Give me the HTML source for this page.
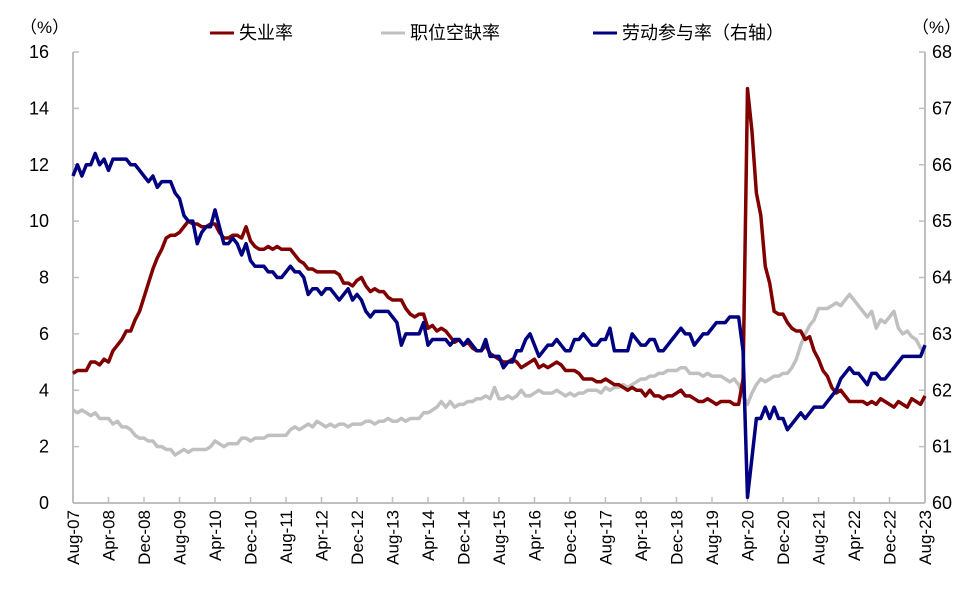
<!DOCTYPE html>
<html><head><meta charset="utf-8"><style>
body{margin:0;background:#fff;}
svg{display:block;font-family:"Liberation Sans","Noto Sans CJK SC",sans-serif;}
</style></head><body>
<svg id="chart" width="977" height="597" viewBox="0 0 977 597" xmlns="http://www.w3.org/2000/svg">
<g id="axes"></g>
<g id="series"></g>
<g id="legend">
  <text x="20" y="33" font-size="17">（%）</text>
  <text x="912" y="33" font-size="17">（%）</text>
  <line x1="210" y1="33" x2="234" y2="33" stroke="#800000" stroke-width="3"/>
  <text x="239" y="39" font-size="18">失业率</text>
  <line x1="381" y1="33" x2="405" y2="33" stroke="#c0c0c0" stroke-width="3"/>
  <text x="410" y="39" font-size="18">职位空缺率</text>
  <line x1="593" y1="33" x2="617" y2="33" stroke="#000080" stroke-width="3"/>
  <text x="622" y="39" font-size="18">劳动参与率（右轴）</text>
</g>
</svg>
<script>
const xLabels=["Aug-07","Apr-08","Dec-08","Aug-09","Apr-10","Dec-10","Aug-11","Apr-12","Dec-12","Aug-13","Apr-14","Dec-14","Aug-15","Apr-16","Dec-16","Aug-17","Apr-18","Dec-18","Aug-19","Apr-20","Dec-20","Aug-21","Apr-22","Dec-22","Aug-23"];
const leftTicks=[0,2,4,6,8,10,12,14,16];
const rightTicks=[60,61,62,63,64,65,66,67,68];
const unemployment=[4.6,4.7,4.7,4.7,5.0,
5.0,4.9,5.1,5.0,5.4,5.6,5.8,6.1,6.1,6.5,6.8,7.3,
7.8,8.3,8.7,9.0,9.4,9.5,9.5,9.6,9.8,10.0,9.9,9.9,
9.8,9.8,9.9,9.9,9.6,9.4,9.4,9.5,9.5,9.4,9.8,9.3,
9.1,9.0,9.0,9.1,9.0,9.1,9.0,9.0,9.0,8.8,8.6,8.5,
8.3,8.3,8.2,8.2,8.2,8.2,8.2,8.1,7.8,7.8,7.7,7.9,
8.0,7.7,7.5,7.6,7.5,7.5,7.3,7.2,7.2,7.2,6.9,6.7,
6.6,6.7,6.7,6.2,6.3,6.1,6.2,6.1,5.9,5.7,5.8,5.6,
5.7,5.5,5.4,5.4,5.6,5.3,5.2,5.1,5.0,5.0,5.1,5.0,
4.8,4.9,5.0,5.1,4.8,4.9,4.8,4.9,5.0,4.9,4.7,4.7,
4.7,4.6,4.4,4.4,4.4,4.3,4.3,4.4,4.3,4.2,4.2,4.1,
4.0,4.1,4.0,4.0,3.8,4.0,3.8,3.8,3.7,3.8,3.8,3.9,
4.0,3.8,3.8,3.7,3.6,3.6,3.7,3.6,3.5,3.6,3.6,3.6,
3.5,3.5,4.4,14.7,13.2,11.0,10.2,8.4,7.8,6.8,6.7,6.7,
6.4,6.2,6.1,6.1,5.8,5.9,5.4,5.1,4.7,4.5,4.1,3.9,
4.0,3.8,3.6,3.6,3.6,3.6,3.5,3.6,3.5,3.7,3.6,3.5,
3.4,3.6,3.5,3.4,3.7,3.6,3.5,3.8];
const vacancy=[3.3,3.2,3.3,3.2,3.1,
3.2,3.0,3.0,3.0,2.8,2.9,2.7,2.7,2.6,2.4,2.3,2.3,
2.2,2.2,2.0,2.0,1.9,1.9,1.7,1.8,1.9,1.8,1.9,1.9,
1.9,1.9,2.0,2.2,2.1,2.0,2.1,2.1,2.1,2.3,2.3,2.2,
2.3,2.3,2.3,2.4,2.4,2.4,2.4,2.4,2.6,2.7,2.6,2.7,
2.8,2.7,2.9,2.8,2.7,2.8,2.7,2.8,2.8,2.7,2.8,2.8,
2.8,2.9,2.9,2.8,2.9,2.9,3.0,2.9,2.9,3.0,2.9,3.0,
3.0,3.0,3.2,3.2,3.3,3.4,3.6,3.4,3.6,3.4,3.5,3.5,
3.6,3.6,3.7,3.7,3.8,3.7,4.1,3.7,3.7,3.8,3.7,3.8,
4.0,3.8,3.8,3.9,4.0,3.9,3.9,3.9,4.0,3.9,3.8,3.9,
3.8,3.9,3.9,4.0,4.0,4.0,3.9,4.1,4.0,4.1,4.1,4.2,
4.1,4.2,4.3,4.4,4.4,4.5,4.5,4.6,4.6,4.7,4.7,4.7,
4.8,4.8,4.6,4.6,4.6,4.5,4.6,4.5,4.5,4.5,4.4,4.3,
4.4,4.2,3.8,3.5,3.9,4.2,4.4,4.3,4.4,4.5,4.5,4.6,
4.6,4.8,5.1,5.6,6.0,6.3,6.5,6.9,6.9,6.9,7.0,7.1,
7.0,7.2,7.4,7.2,7.0,6.8,6.6,6.8,6.2,6.5,6.4,6.6,
6.8,6.2,6.0,6.1,5.9,5.8,5.5,5.3];
const participation=[65.8,66.0,65.8,66.0,66.0,
66.2,66.0,66.1,65.9,66.1,66.1,66.1,66.1,66.0,66.0,65.9,65.8,
65.7,65.8,65.6,65.7,65.7,65.7,65.5,65.4,65.1,65.0,65.0,64.6,
64.8,64.9,64.9,65.2,64.9,64.6,64.6,64.7,64.6,64.4,64.6,64.3,
64.2,64.2,64.2,64.1,64.1,64.0,64.0,64.1,64.2,64.1,64.1,64.0,
63.7,63.8,63.8,63.7,63.8,63.8,63.7,63.6,63.7,63.8,63.6,63.7,
63.6,63.4,63.3,63.4,63.4,63.4,63.4,63.3,63.2,62.8,63.0,63.0,
63.0,63.0,63.2,62.8,62.9,62.9,62.9,62.9,62.8,62.9,62.9,62.8,
62.9,62.8,62.7,62.7,62.9,62.6,62.6,62.6,62.4,62.5,62.5,62.7,
62.7,62.9,63.0,62.8,62.6,62.7,62.8,62.8,62.9,62.8,62.7,62.7,
62.9,62.9,63.0,62.9,62.8,62.8,62.9,62.9,63.1,62.7,62.7,62.7,
62.7,63.0,62.9,62.8,62.8,62.9,62.9,62.7,62.7,62.8,62.9,63.0,
63.1,63.0,63.0,62.8,62.9,63.0,63.0,63.1,63.2,63.2,63.2,63.3,
63.3,63.3,62.7,60.1,60.8,61.5,61.5,61.7,61.5,61.7,61.5,61.5,
61.3,61.4,61.5,61.6,61.5,61.6,61.7,61.7,61.7,61.8,61.9,62.0,
62.2,62.3,62.4,62.3,62.3,62.2,62.1,62.3,62.3,62.2,62.2,62.3,
62.4,62.5,62.6,62.6,62.6,62.6,62.6,62.8];

const X0=73,X1=925,Y0=503,Y1=52,NS="http://www.w3.org/2000/svg";
const n=unemployment.length;
function xPos(i){return X0+i*(X1-X0)/(n-1);}
function yLeft(v){return Y0-(v-0)/16*(Y0-Y1);}
function yRight(v){return Y0-(v-60)/8*(Y0-Y1);}
function mk(tag,attrs,parent){const e=document.createElementNS(NS,tag);for(const k in attrs)e.setAttribute(k,attrs[k]);parent.appendChild(e);return e;}
const axes=document.getElementById('axes');
const ac="#bfbfbf";
let e;
e=mk('line',{x1:X0,y1:Y1,x2:X0,y2:Y0,stroke:ac,'stroke-width':2},axes);


e=mk('line',{x1:X1,y1:Y1,x2:X1,y2:Y0,stroke:ac,'stroke-width':2},axes);


e=mk('line',{x1:X0,y1:Y0,x2:X1,y2:Y0,stroke:ac,'stroke-width':2},axes);


leftTicks.forEach(v=>{const y=yLeft(v);
 e=mk('line',{x1:X0,y1:y,x2:X0+6,y2:y,stroke:ac,'stroke-width':1.5},axes);
 
 
 e=mk('text',{x:49,y:y+6,'font-size':18,'text-anchor':'end'},axes);e.textContent=v;
 
 });
rightTicks.forEach(v=>{const y=yRight(v);
 e=mk('line',{x1:X1-6,y1:y,x2:X1,y2:y,stroke:ac,'stroke-width':1.5},axes);
 
 
 e=mk('text',{x:932,y:y+6,'font-size':18},axes);e.textContent=v;
 
 });
xLabels.forEach((l,k)=>{const x=xPos(k*8);
 e=mk('line',{x1:x,y1:Y0-6,x2:x,y2:Y0,stroke:ac,'stroke-width':1.5},axes);
 
 
 e=mk('text',{x:0,y:0,'font-size':17,'text-anchor':'end',transform:`translate(${x+6},510) rotate(-90)`},axes);e.textContent=l;
 
 });
const ser=document.getElementById('series');
function line(data,yf,color,name){
 const d=data.map((v,i)=>(i?'L':'M')+xPos(i).toFixed(2)+','+yf(v).toFixed(2)).join('');
 const p=mk('path',{d:d,fill:'none',stroke:color,'stroke-width':3.5,'stroke-linejoin':'round'},ser);
 
 
}
line(vacancy,yLeft,'#c0c0c0','vacancy-rate-line');
line(unemployment,yLeft,'#800000','unemployment-rate-line');
line(participation,yRight,'#000080','participation-rate-line');
</script>
</body></html>
